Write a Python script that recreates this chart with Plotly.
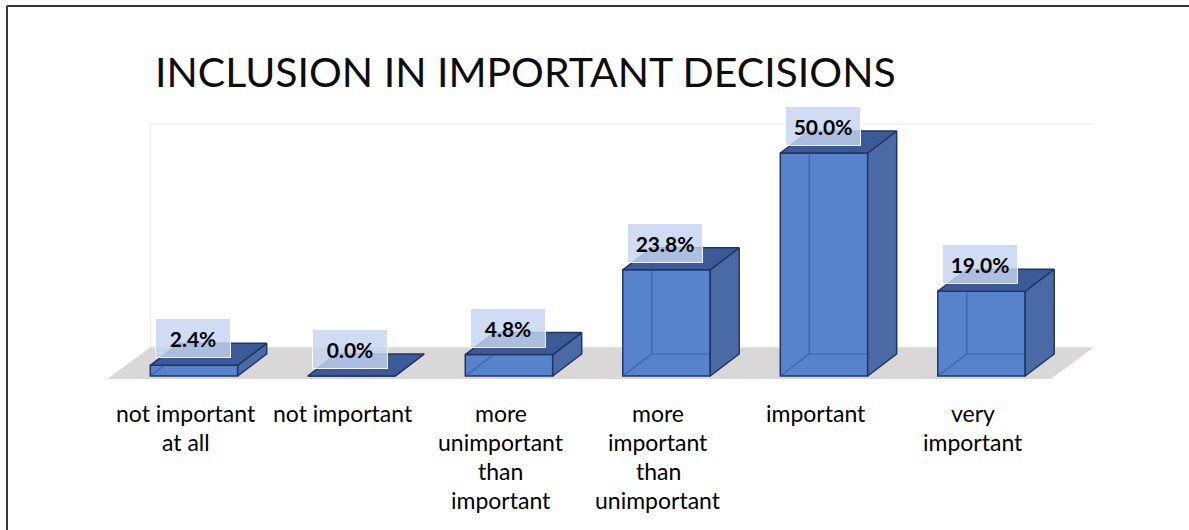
import plotly.graph_objects as go

# ---- data -------------------------------------------------------------
categories = [
    "not important at all",
    "not important",
    "more unimportant than important",
    "more important than unimportant",
    "important",
    "very important",
]
category_lines = [
    ["not important", "at all"],
    ["not important"],
    ["more", "unimportant", "than", "important"],
    ["more", "important", "than", "unimportant"],
    ["important"],
    ["very", "important"],
]
values = [2.4, 0.0, 4.8, 23.8, 50.0, 19.0]
value_labels = [f"{v:.1f}%" for v in values]
title_text = "INCLUSION IN IMPORTANT DECISIONS"

# ---- layout / style constants -------------------------------------------
WIDTH, HEIGHT = 1189, 530
X_RANGE = [-1.2317, 6.3175]
Y_RANGE = [-34.53, 84.30]

BAR_W = 0.555            # front face width (category units)
DEPTH_X, DEPTH_Y = 0.184, 4.93     # bar depth offset
FLOOR_X0, FLOOR_X1, FLOOR_Y = -0.55, 5.44, -0.7
FLOOR_DX, FLOOR_DY = 0.273, 7.17   # floor depth offset
AXIS_MAX = 50

FRONT = "rgb(86,131,204)"
SIDE = "rgb(74,106,165)"
TOP = "rgb(60,90,152)"
EDGE = "rgb(32,53,98)"
HIDDEN = "rgba(40,72,140,0.55)"
FLOOR = "rgb(217,215,215)"
GRID = "rgb(240,240,240)"
FONT = "Lato, 'Open Sans', sans-serif"

fig = go.Figure()

# front faces of the bars
idx = list(range(len(categories)))
fig.add_trace(go.Bar(
    x=idx, y=values, width=BAR_W, base=0,
    marker=dict(color=FRONT, line=dict(color=EDGE, width=1.5)),
    hoverinfo="skip", showlegend=False,
))

# top and side faces, hidden back edges
for i, v in enumerate(values):
    xl, xr = i - BAR_W / 2, i + BAR_W / 2
    side_x = [xr, xr, xr + DEPTH_X, xr + DEPTH_X, xr]
    side_y = [0, v, v + DEPTH_Y, DEPTH_Y, 0]
    top_x = [xl, xr, xr + DEPTH_X, xl + DEPTH_X, xl]
    top_y = [v, v, v + DEPTH_Y, v + DEPTH_Y, v]
    if v > 0:
        fig.add_trace(go.Scatter(
            x=[xl, xl + DEPTH_X, xl + DEPTH_X, None, xl + DEPTH_X, xr + DEPTH_X],
            y=[0, DEPTH_Y, v + DEPTH_Y, None, DEPTH_Y, DEPTH_Y],
            mode="lines", line=dict(color=HIDDEN, width=1.2),
            hoverinfo="skip", showlegend=False,
        ))
    fig.add_trace(go.Scatter(
        x=side_x, y=side_y, fill="toself", fillcolor=SIDE, mode="lines",
        line=dict(color=EDGE, width=1.5), hoverinfo="skip", showlegend=False,
    ))
    fig.add_trace(go.Scatter(
        x=top_x, y=top_y, fill="toself", fillcolor=TOP, mode="lines",
        line=dict(color=EDGE, width=1.5), hoverinfo="skip", showlegend=False,
    ))

shapes = []
# floor
fx = [FLOOR_X0, FLOOR_X1, FLOOR_X1 + FLOOR_DX, FLOOR_X0 + FLOOR_DX]
fy = [FLOOR_Y, FLOOR_Y, FLOOR_Y + FLOOR_DY, FLOOR_Y + FLOOR_DY]
path = "M " + " L ".join(f"{a},{b}" for a, b in zip(fx, fy)) + " Z"
shapes.append(dict(type="path", path=path, xref="x", yref="y",
                   fillcolor=FLOOR, line=dict(width=0), layer="below"))
# back wall gridline and wall edge
back_y0 = FLOOR_Y + FLOOR_DY
shapes.append(dict(type="line", xref="x", yref="y",
                   x0=FLOOR_X0 + FLOOR_DX, x1=FLOOR_X1 + FLOOR_DX,
                   y0=back_y0 + AXIS_MAX, y1=back_y0 + AXIS_MAX,
                   line=dict(color=GRID, width=1.5), layer="below"))
shapes.append(dict(type="line", xref="x", yref="y",
                   x0=FLOOR_X0 + FLOOR_DX, x1=FLOOR_X0 + FLOOR_DX,
                   y0=back_y0, y1=back_y0 + AXIS_MAX,
                   line=dict(color=GRID, width=1.5), layer="below"))
# chart frame
fx0, fy0 = 7 / WIDTH, 1 - 6 / HEIGHT
shapes.append(dict(type="line", xref="paper", yref="paper", x0=fx0, x1=1,
                   y0=fy0, y1=fy0, line=dict(color="rgb(55,55,55)", width=2)))
shapes.append(dict(type="line", xref="paper", yref="paper", x0=fx0, x1=fx0,
                   y0=fy0, y1=0, line=dict(color="rgb(55,55,55)", width=2)))

annotations = []
# value labels
for i, (v, lab) in enumerate(zip(values, value_labels)):
    annotations.append(dict(
        x=i, y=v, xref="x", yref="y", text=f"<b>{lab}</b>", showarrow=False,
        yshift=27, xshift=-1, xanchor="center", yanchor="middle",
        font=dict(family=FONT, size=21, color="black"),
        bgcolor="rgba(196,212,240,0.82)", bordercolor="rgba(255,255,255,0.9)",
        borderwidth=1, borderpad=5, width=64, height=28,
    ))
# category labels, one line each
for i, lines in enumerate(category_lines):
    for k, line in enumerate(lines):
        annotations.append(dict(
            x=i, y=0, xref="x", yref="y", text=line, showarrow=False,
            xshift=-8, yshift=-(37 + 29 * k), xanchor="center", yanchor="middle",
            font=dict(family=FONT, size=23, color="black"),
        ))
# title
annotations.append(dict(
    x=153 / WIDTH, y=1 - 72 / HEIGHT, xref="paper", yref="paper",
    text=title_text, showarrow=False, xanchor="left", yanchor="middle",
    font=dict(family=FONT, size=41, color="rgb(13,13,13)"),
))

fig.update_layout(
    width=WIDTH, height=HEIGHT, autosize=False,
    margin=dict(l=0, r=0, t=0, b=0),
    paper_bgcolor="white", plot_bgcolor="white",
    xaxis=dict(range=X_RANGE, visible=False, fixedrange=True),
    yaxis=dict(range=Y_RANGE, visible=False, fixedrange=True),
    shapes=shapes, annotations=annotations, showlegend=False,
    barmode="overlay",
)

fig.write_html("out.html")
